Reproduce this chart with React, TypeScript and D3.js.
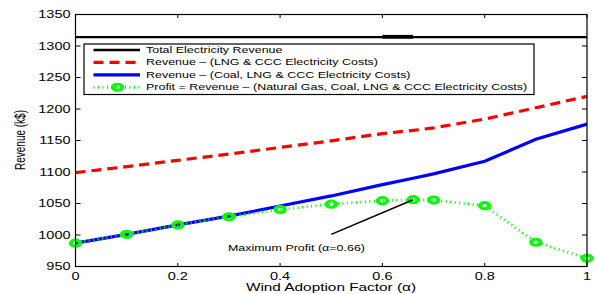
import * as d3 from 'd3';
import { useEffect, useRef } from 'react';

// wind adoption factor (alpha) samples, 0.66 is the max-profit point
const alphas = [0, 0.1, 0.2, 0.3, 0.4, 0.5, 0.6, 0.66, 0.7, 0.8, 0.9, 1];
const totalRevenue = [1314, 1314, 1314, 1314, 1314, 1314, 1314, 1314, 1314, 1314, 1314, 1314];
const revLngCcc = [1099, 1108.5, 1118.5, 1128.5, 1139, 1149.5, 1161, 1166, 1170, 1184, 1202, 1220];
const revCoalLngCcc = [987, 1001, 1016, 1030, 1046, 1062, 1080, 1090, 1097, 1117, 1152, 1176];
const profit = [987, 1001, 1016, 1029, 1040.5, 1049, 1054.5, 1056, 1055.5, 1046.5, 988.5, 963];

const xTicks = [0, 0.2, 0.4, 0.6, 0.8, 1];
const yTicks = [950, 1000, 1050, 1100, 1150, 1200, 1250, 1300, 1350];

const legendLabels = [
  'Total Electricity Revenue',
  'Revenue \u2013 (LNG & CCC Electricity Costs)',
  'Revenue \u2013 (Coal, LNG & CCC Electricity Costs)',
  'Profit = Revenue \u2013 (Natural Gas, Coal, LNG & CCC Electricity Costs)',
];

const FONT = '"Liberation Sans", Arial, Helvetica, sans-serif';
const SX = 1.45; // the source figure is stretched horizontally

export default function App() {
  const svgRef = useRef(null);

  useEffect(() => {
    if (!svgRef.current) return;
    const svg = d3.select(svgRef.current);
    svg.selectAll('*').remove();

    const x = d3.scaleLinear().domain([0, 1]).range([75.5, 587]);
    const y = d3.scaleLinear().domain([950, 1350]).range([266.5, 14.5]);

    const label = (
      g: any,
      tx: number,
      ty: number,
      txt: string,
      size: number,
      anchor = 'start'
    ) =>
      g
        .append('text')
        .attr('transform', `translate(${tx},${ty}) scale(${SX},1)`)
        .attr('text-anchor', anchor)
        .attr('font-family', FONT)
        .attr('font-size', size)
        .attr('fill', '#000')
        .text(txt);

    // frame ticks (inward, all sides)
    const ticksG = svg.append('g').attr('stroke', '#000').attr('stroke-width', 1);
    xTicks.forEach((t) => {
      ticksG.append('line').attr('x1', x(t)).attr('x2', x(t)).attr('y1', y(950)).attr('y2', y(950) - 3.5);
      ticksG.append('line').attr('x1', x(t)).attr('x2', x(t)).attr('y1', y(1350)).attr('y2', y(1350) + 3.5);
    });
    yTicks.forEach((t) => {
      ticksG.append('line').attr('x1', x(0)).attr('x2', x(0) + 5).attr('y1', y(t)).attr('y2', y(t));
      ticksG.append('line').attr('x1', x(1)).attr('x2', x(1) - 5).attr('y1', y(t)).attr('y2', y(t));
    });

    xTicks.forEach((t) => label(svg, x(t), 280, String(t), 10, 'middle'));
    yTicks.forEach((t) => label(svg, 70.5, y(t) + 3.6, String(t), 10, 'end'));

    label(svg, 331, 290.5, 'Wind Adoption Factor (\u03b1)', 10.6, 'middle');
    svg
      .append('text')
      .attr('transform', `translate(25,140) rotate(-90) scale(1,${SX})`)
      .attr('text-anchor', 'middle')
      .attr('font-family', FONT)
      .attr('font-size', 10)
      .text('Revenue (k$)');

    const line = (vals: number[]) =>
      d3
        .line<number>()
        .x((_, i) => x(alphas[i]))
        .y((d) => y(d))(vals);

    // total revenue
    svg.append('path').attr('d', line(totalRevenue)).attr('fill', 'none').attr('stroke', '#000').attr('stroke-width', 2.3);
    svg
      .append('line')
      .attr('x1', x(0.6))
      .attr('x2', x(0.66))
      .attr('y1', y(1314.6))
      .attr('y2', y(1314.6))
      .attr('stroke', '#000')
      .attr('stroke-width', 3.8);

    svg
      .append('path')
      .attr('d', line(revLngCcc))
      .attr('fill', 'none')
      .attr('stroke', '#ff0000')
      .attr('stroke-width', 3.2)
      .attr('stroke-dasharray', '10,6');

    svg
      .append('path')
      .attr('d', line(revCoalLngCcc))
      .attr('fill', 'none')
      .attr('stroke', '#0000ff')
      .attr('stroke-width', 3.2);

    svg
      .append('path')
      .attr('d', line(profit))
      .attr('fill', 'none')
      .attr('stroke', '#00ff00')
      .attr('stroke-width', 3)
      .attr('stroke-dasharray', '1,3.5');

    const marker = (g: any, cx: number, cy: number) =>
      g
        .append('g')
        .attr('transform', `translate(${cx},${cy}) scale(${SX},1)`)
        .append('circle')
        .attr('r', 3.2)
        .attr('fill', 'none')
        .attr('stroke', '#00ff00')
        .attr('stroke-width', 2.8);

    profit.forEach((v, i) => marker(svg, x(alphas[i]), y(v)));

    // annotation
    svg
      .append('line')
      .attr('x1', x(0.5))
      .attr('y1', y(1001))
      .attr('x2', x(0.66))
      .attr('y2', y(1056))
      .attr('stroke', '#000')
      .attr('stroke-width', 1.6);
    label(svg, x(0.298), y(974), 'Maximum Profit (\u03b1=0.66)', 8.6);

    // frame
    svg
      .append('rect')
      .attr('x', x(0))
      .attr('y', y(1350))
      .attr('width', x(1) - x(0))
      .attr('height', y(950) - y(1350))
      .attr('fill', 'none')
      .attr('stroke', '#000')
      .attr('stroke-width', 1.2);

    // legend
    const lg = svg.append('g');
    lg.append('rect')
      .attr('x', 84)
      .attr('y', 44)
      .attr('width', 450)
      .attr('height', 50.5)
      .attr('fill', '#fff')
      .attr('stroke', '#000')
      .attr('stroke-width', 1.2);
    const rows = [50, 62.4, 74.8, 87.3];
    const styles = [
      { stroke: '#000', w: 2.3, dash: null },
      { stroke: '#ff0000', w: 3.2, dash: '10,6' },
      { stroke: '#0000ff', w: 3.2, dash: null },
      { stroke: '#00ff00', w: 3, dash: '1,3.5' },
    ];
    rows.forEach((ry, i) => {
      const s = styles[i];
      const l = lg
        .append('line')
        .attr('x1', 93.5)
        .attr('x2', 140)
        .attr('y1', ry)
        .attr('y2', ry)
        .attr('stroke', s.stroke)
        .attr('stroke-width', s.w);
      if (s.dash) l.attr('stroke-dasharray', s.dash);
      label(lg, 146, ry + 3, legendLabels[i], 8.6);
    });
    marker(lg, 117.5, rows[3]);
  }, []);

  return (
    <svg
      ref={svgRef}
      width={595}
      height={294}
      style={{ position: 'absolute', left: 0, top: 0, background: '#fff' }}
    />
  );
}
